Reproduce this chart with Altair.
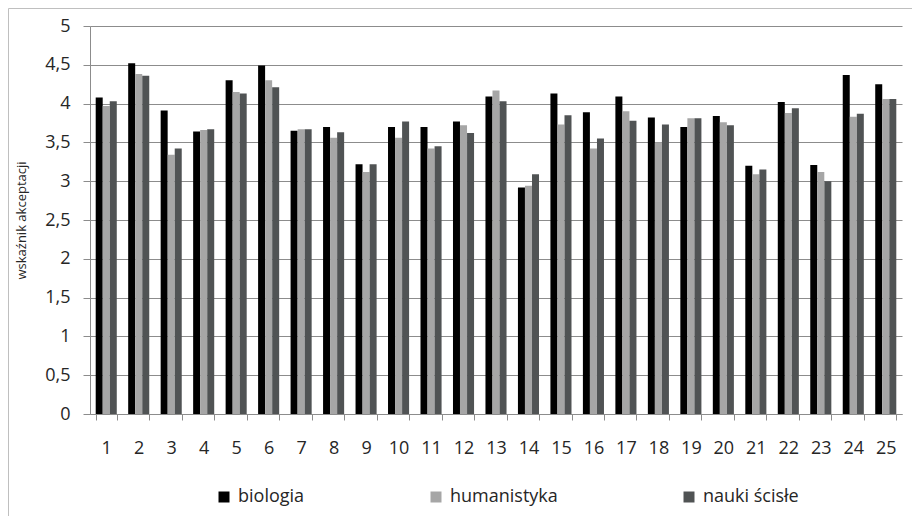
import altair as alt
import pandas as pd

categories = [str(i) for i in range(1, 26)]
series = ["biologia", "humanistyka", "nauki ścisłe"]

biologia = [4.08, 4.52, 3.91, 3.64, 4.30, 4.49, 3.65, 3.70, 3.22, 3.70,
            3.70, 3.77, 4.09, 2.92, 4.13, 3.89, 4.09, 3.82, 3.70, 3.84,
            3.20, 4.02, 3.21, 4.37, 4.25]
humanistyka = [3.97, 4.38, 3.34, 3.66, 4.15, 4.30, 3.67, 3.56, 3.12, 3.56,
               3.42, 3.72, 4.17, 2.94, 3.73, 3.42, 3.90, 3.50, 3.81, 3.76,
               3.09, 3.88, 3.12, 3.83, 4.06]
nauki = [4.03, 4.36, 3.42, 3.67, 4.13, 4.21, 3.67, 3.63, 3.22, 3.77,
         3.45, 3.62, 4.03, 3.09, 3.85, 3.55, 3.78, 3.73, 3.81, 3.72,
         3.15, 3.94, 3.00, 3.87, 4.06]
colors = ["#000000", "#a6a6a6", "#505354"]
y_ticks = [0, 0.5, 1, 1.5, 2, 2.5, 3, 3.5, 4, 4.5, 5]

rows = []
for name, vals in zip(series, [biologia, humanistyka, nauki]):
    for c, v in zip(categories, vals):
        rows.append({"cat": c, "series": name, "value": v})
df = pd.DataFrame(rows)

FONT = "Open Sans"

bars = alt.Chart(df).mark_bar(size=7).encode(
    x=alt.X("cat:N", sort=categories, title=None,
            scale=alt.Scale(paddingInner=0.35, paddingOuter=0.175),
            axis=alt.Axis(labelAngle=0, tickBand="extent", tickSize=6,
                          labelPadding=19, domainColor="#8c8c8c",
                          tickColor="#8c8c8c", labelFontSize=18,
                          labelColor="#262626", labelFont=FONT, grid=False)),
    xOffset=alt.XOffset("series:N", sort=series, scale=alt.Scale(paddingInner=0)),
    y=alt.Y("value:Q", title="wskaźnik akceptacji",
            scale=alt.Scale(domain=[0, 5], nice=False),
            axis=alt.Axis(values=y_ticks, tickSize=7, labelPadding=13,
                          labelExpr="replace(toString(datum.value), '.', ',')",
                          labelFontSize=18, labelColor="#262626", labelFont=FONT,
                          domainColor="#8c8c8c", tickColor="#8c8c8c",
                          gridColor="#8c8c8c", grid=True,
                          titleFont=FONT, titleFontSize=13, titleFontWeight="normal",
                          titleColor="#262626", titleX=-69, titleY=194,
                          titleAlign="center", titleBaseline="middle")),
    color=alt.Color("series:N", sort=series,
                    scale=alt.Scale(domain=series, range=colors),
                    legend=alt.Legend(title=None, orient="none", direction="horizontal",
                                      legendX=125, legendY=462, symbolType="square",
                                      symbolSize=121, symbolStrokeWidth=0,
                                      labelFontSize=18, labelFont=FONT,
                                      labelColor="#262626", labelOffset=5,
                                      columnPadding=122)),
)

border = alt.Chart(pd.DataFrame({"a": [0]})).mark_rect(
    fillOpacity=0, stroke="#bfbfbf", strokeWidth=1
).encode(x=alt.value(-81.5), x2=alt.value(860), y=alt.value(-17.5), y2=alt.value(560))

chart = alt.layer(border, bars).properties(
    width=812, height=388,
    padding={"left": 82, "top": 18, "right": 10, "bottom": 102},
    autosize=alt.AutoSizeParams(type="none"),
).configure_view(stroke=None)

chart.save("out.html", embed_options={"renderer": "svg", "actions": False})
